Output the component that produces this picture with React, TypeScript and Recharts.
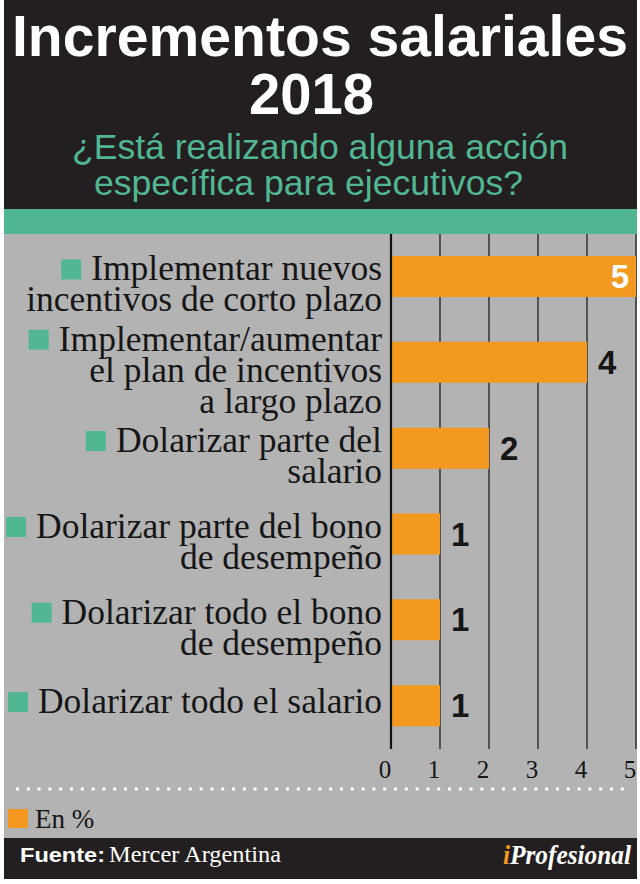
import React, { useLayoutEffect, useRef, useState } from 'react';
import { BarChart, Bar, XAxis, YAxis, CartesianGrid, LabelList } from 'recharts';

const categories = [
  'Implementar nuevos\nincentivos de corto plazo',
  'Implementar/aumentar\nel plan de incentivos\na largo plazo',
  'Dolarizar parte del\nsalario',
  'Dolarizar parte del bono\nde desempeño',
  'Dolarizar todo el bono\nde desempeño',
  'Dolarizar todo el salario',
];
const values = [5, 4, 2, 1, 1, 1];
const xTicks = [0, 1, 2, 3, 4, 5];

const data = categories.map((name, i) => ({ name, value: values[i] }));

const W = 640;
const H = 884;
const DARK = '#231f20';
const GREEN = '#50b792';
const GRAY = '#b3b3b3';
const ORANGE = '#f4991f';
const INK = '#161616';
const LINE = 31;
const X_MAX = xTicks[xTicks.length - 1];

function CategoryTick(props: any) {
  const { x, y, payload } = props;
  const lines = String(payload.value).split('\n');
  const ref = useRef<SVGTextElement>(null);
  const [w, setW] = useState(0);
  useLayoutEffect(() => {
    if (ref.current) setW(ref.current.getComputedTextLength());
  }, [payload.value]);
  const n = lines.length;
  const mid = y + (n === 1 ? 7 : 19);
  const first = mid - ((n - 1) * LINE) / 2;
  const sqX = Math.max(4, x - w - 10 - 20);
  return (
    <g>
      {w > 0 && <rect x={sqX} y={first - 21} width={20} height={20} fill={GREEN} />}
      {lines.map((l, i) => (
        <text
          key={i}
          ref={i === 0 ? ref : undefined}
          x={x}
          y={first + i * LINE}
          textAnchor="end"
          fontFamily="'Liberation Serif', serif"
          fontSize={35.5}
          fill={INK}
        >
          {l}
        </text>
      ))}
    </g>
  );
}

function XTick(props: any) {
  const { x, y, payload } = props;
  return (
    <text
      x={x - 6}
      y={y + 29}
      textAnchor="middle"
      fontFamily="'Liberation Serif', serif"
      fontSize={25}
      fill={INK}
    >
      {payload.value}
    </text>
  );
}

function ValueLabel(props: any) {
  const { x, y, width, height, value } = props;
  const inside = Number(value) >= X_MAX;
  const cy = y + height / 2 + 11.5;
  return (
    <text
      x={inside ? x + width - 7 : x + width + 11}
      y={cy}
      textAnchor={inside ? 'end' : 'start'}
      fontFamily="'Liberation Sans', Arial, sans-serif"
      fontWeight="bold"
      fontSize={33}
      fill={inside ? '#ffffff' : INK}
    >
      {value}
    </text>
  );
}

export default function App() {
  return (
    <div style={{ position: 'relative', width: W, height: H, background: '#fff', overflow: 'hidden' }}>
      <style>{'body{margin:0;}'}</style>
      <svg width={W} height={H} style={{ position: 'absolute', left: 0, top: 0 }}>
        <rect x={4} y={0} width={633} height={209} fill={DARK} />
        <rect x={4} y={209} width={633} height={25} fill={GREEN} />
        <rect x={4} y={234} width={633} height={604} fill={GRAY} />
        <rect x={4} y={838} width={633} height={41} fill={DARK} />
        <text x={12} y={56} textLength={616} lengthAdjust="spacingAndGlyphs"
          fontFamily="'Liberation Sans', Arial, sans-serif" fontWeight="bold" fontSize={58} fill="#fff">
          Incrementos salariales
        </text>
        <text x={249} y={114} textLength={125} lengthAdjust="spacingAndGlyphs"
          fontFamily="'Liberation Sans', Arial, sans-serif" fontWeight="bold" fontSize={57} fill="#fff">
          2018
        </text>
        <text x={72} y={159} textLength={496} lengthAdjust="spacingAndGlyphs"
          fontFamily="'Liberation Sans', Arial, sans-serif" fontSize={35} fill={GREEN}>
          ¿Está realizando alguna acción
        </text>
        <text x={94} y={195} textLength={429} lengthAdjust="spacingAndGlyphs"
          fontFamily="'Liberation Sans', Arial, sans-serif" fontSize={35} fill={GREEN}>
          específica para ejecutivos?
        </text>
        <line x1={16} x2={626} y1={789} y2={789} stroke="#fff" strokeWidth={3} strokeDasharray="3 7.8" />
        <rect x={8} y={809} width={20} height={19} fill={ORANGE} />
        <text x={35} y={828} fontFamily="'Liberation Serif', serif" fontSize={27} fill={INK}>
          En %
        </text>
        <text x={20} y={862} textLength={85} lengthAdjust="spacingAndGlyphs"
          fontFamily="'Liberation Sans', Arial, sans-serif" fontWeight="bold" fontSize={21} fill="#fff">
          Fuente:
        </text>
        <text x={109} y={862} textLength={172} lengthAdjust="spacingAndGlyphs"
          fontFamily="'Liberation Serif', serif" fontSize={23} fill="#fff">
          Mercer Argentina
        </text>
        <text x={503} y={864} textLength={128} lengthAdjust="spacingAndGlyphs"
          fontFamily="'Liberation Serif', serif" fontWeight="bold" fontStyle="italic" fontSize={27} fill="#fff">
          <tspan fill={ORANGE}>i</tspan>Profesional
        </text>
      </svg>
      <div style={{ position: 'absolute', left: 0, top: 0 }}>
        <BarChart
          width={W}
          height={H}
          data={data}
          layout="vertical"
          margin={{ top: 234, right: 4, bottom: 95, left: 0 }}
        >
          <CartesianGrid horizontal={false} vertical={true} stroke="#1e1e1e" strokeWidth={1.3} />
          <XAxis
            type="number"
            domain={[0, X_MAX]}
            ticks={xTicks}
            interval={0}
            axisLine={false}
            tickLine={false}
            tickSize={0}
            tickMargin={0}
            height={40}
            tick={(p: any) => <XTick {...p} />}
          />
          <YAxis
            type="category"
            dataKey="name"
            width={391}
            interval={0}
            axisLine={{ stroke: '#111', strokeWidth: 2.2 }}
            tickLine={false}
            tickSize={0}
            tickMargin={9}
            tick={(p: any) => <CategoryTick {...p} />}
          />
          <Bar dataKey="value" fill={ORANGE} barSize={41} isAnimationActive={false}>
            <LabelList dataKey="value" content={(p: any) => <ValueLabel {...p} />} />
          </Bar>
        </BarChart>
      </div>
    </div>
  );
}
